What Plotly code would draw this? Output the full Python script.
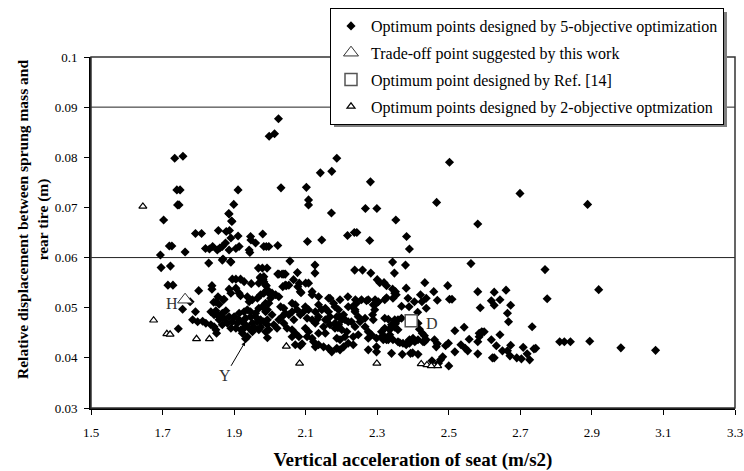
"""Scatter of optimum suspension designs: seat acceleration vs. relative displacement."""

import plotly.graph_objects as go

# (vertical acceleration of seat [m/s2], relative displacement [m])
PTS_5OBJ = [
    (2.024, 0.0877), (1.998, 0.0842), (2.013, 0.0847), (1.734, 0.0798), (1.757, 0.0802),
    (1.740, 0.0735), (1.749, 0.0735), (1.742, 0.0705), (1.746, 0.0705), (1.703, 0.0675),
    (1.911, 0.0735), (1.899, 0.0706), (1.885, 0.0688), (1.894, 0.0672), (1.856, 0.0654),
    (1.878, 0.0652), (1.887, 0.0654), (1.792, 0.0648), (1.809, 0.0648), (1.891, 0.0639),
    (1.911, 0.0643), (1.946, 0.0642), (1.947, 0.0635), (1.980, 0.0647),
    (2.031, 0.0739), (2.102, 0.0740), (2.108, 0.0715), (2.108, 0.0705), (2.141, 0.0769),
    (2.173, 0.0772), (2.187, 0.0798), (2.172, 0.0689), (2.105, 0.0632), (2.145, 0.0635),
    (2.022, 0.0624), (1.983, 0.0622), (1.990, 0.0622), (1.997, 0.0622), (1.719, 0.0623),
    (1.726, 0.0623), (2.281, 0.0751), (2.267, 0.0698), (2.299, 0.0698), (2.352, 0.0675),
    (2.466, 0.0710), (2.502, 0.0790), (2.581, 0.0667), (2.699, 0.0728), (2.888, 0.0706),
    (1.694, 0.0605), (1.696, 0.0580), (1.722, 0.0583), (1.763, 0.0611), (1.715, 0.0545),
    (1.729, 0.0545), (1.777, 0.0512), (1.756, 0.0497), (1.744, 0.0458), (1.792, 0.0492),
    (1.801, 0.0534),
    (1.820, 0.0618), (1.831, 0.0617), (1.840, 0.0622), (1.853, 0.0615), (1.860, 0.0619),
    (1.867, 0.0622), (1.876, 0.0629), (1.886, 0.0615), (1.905, 0.0618), (1.914, 0.0622),
    (1.942, 0.0615), (1.960, 0.0629),
    (1.829, 0.0589), (1.838, 0.0544), (1.838, 0.0537), (1.843, 0.0511), (1.855, 0.0522),
    (1.870, 0.0516), (1.851, 0.0489), (1.867, 0.0489), (1.886, 0.0687), (1.893, 0.0673),
    (1.869, 0.0597), (1.890, 0.0592), (1.944, 0.0610), (2.056, 0.0593),
    (1.895, 0.0557), (1.905, 0.0557), (1.918, 0.0557), (1.928, 0.0552), (1.948, 0.0548),
    (1.968, 0.0579), (1.979, 0.0579), (1.992, 0.0579), (1.973, 0.0561), (1.981, 0.0557),
    (1.990, 0.0544), (2.022, 0.0567), (2.039, 0.0567), (2.046, 0.0544), (2.053, 0.0545),
    (2.077, 0.0570), (2.066, 0.0556), (2.082, 0.0549), (2.087, 0.0530), (2.100, 0.0549),
    (2.769, 0.0576), (2.919, 0.0536), (2.775, 0.0518), (2.581, 0.0532), (2.627, 0.0531),
    (2.660, 0.0535), (2.619, 0.0514), (2.627, 0.0505), (2.643, 0.0516), (2.673, 0.0505),
    (2.588, 0.0500), (2.664, 0.0489), (2.667, 0.0472), (2.733, 0.0462), (2.594, 0.0451),
    (2.585, 0.0449), (2.643, 0.0446), (2.619, 0.0436), (2.581, 0.0432),
    (2.633, 0.0424), (2.650, 0.0414), (2.664, 0.0414), (2.673, 0.0425), (2.671, 0.0404),
    (2.690, 0.0400), (2.703, 0.0398), (2.708, 0.0421), (2.719, 0.0408), (2.726, 0.0396),
    (2.738, 0.0418), (2.743, 0.0419), (2.627, 0.0400), (2.622, 0.0400),
    (2.810, 0.0432), (2.823, 0.0432), (2.840, 0.0432), (2.894, 0.0433), (2.981, 0.0420),
    (3.078, 0.0415), (2.581, 0.0408),
    (2.126, 0.0585), (2.126, 0.0569), (2.217, 0.0644), (2.236, 0.0650), (2.243, 0.0650),
    (2.279, 0.0634), (2.382, 0.0642), (2.390, 0.0617), (2.343, 0.0591), (2.348, 0.0569),
    (2.379, 0.0585), (2.237, 0.0575), (2.259, 0.0575), (2.282, 0.0569), (2.562, 0.0588),
    (2.025, 0.0567), (2.034, 0.0567), (2.043, 0.0567), (2.108, 0.0549),
    (2.300, 0.0556), (2.307, 0.0550), (2.319, 0.0550), (2.326, 0.0544), (2.343, 0.0537),
    (2.351, 0.0532), (2.381, 0.0539), (2.433, 0.0550), (2.497, 0.0544), (2.458, 0.0532),
    (2.421, 0.0526), (2.437, 0.0519), (2.404, 0.0512), (2.425, 0.0512), (2.468, 0.0515),
    (2.502, 0.0517), (2.509, 0.0517),
    (2.218, 0.0522), (2.239, 0.0516), (2.256, 0.0516), (2.275, 0.0516), (2.294, 0.0516),
    (2.303, 0.0512), (2.326, 0.0520), (2.368, 0.0503), (2.389, 0.0502), (2.164, 0.0519),
    (2.196, 0.0516), (2.219, 0.0502), (2.238, 0.0496), (2.266, 0.0479), (2.287, 0.0486),
    (2.293, 0.0496), (2.266, 0.0462),
    (2.331, 0.0477), (2.349, 0.0476), (2.351, 0.0468), (2.340, 0.0462), (2.358, 0.0456),
    (2.414, 0.0469), (2.418, 0.0457), (2.426, 0.0449), (2.432, 0.0444),
    (2.390, 0.0436), (2.400, 0.0439), (2.414, 0.0436), (2.405, 0.0432), (2.372, 0.0429),
    (2.363, 0.0430), (2.381, 0.0428), (2.390, 0.0429),
    (2.340, 0.0409), (2.370, 0.0407), (2.393, 0.0409), (2.399, 0.0410), (2.414, 0.0407),
    (2.432, 0.0432), (2.460, 0.0436), (2.468, 0.0428), (2.465, 0.0422), (2.499, 0.0429),
    (2.491, 0.0424), (2.517, 0.0454), (2.543, 0.0461), (2.557, 0.0437), (2.517, 0.0412),
    (2.534, 0.0426), (2.546, 0.0419), (2.553, 0.0414), (2.585, 0.0442), (2.592, 0.0452),
    (2.599, 0.0452), (2.500, 0.0384), (2.483, 0.0402), (2.477, 0.0396), (2.471, 0.0389),
    (2.453, 0.0394),
    (1.974, 0.0559), (1.983, 0.0552), (1.988, 0.0545), (2.043, 0.0545), (2.036, 0.0542),
    (2.078, 0.0542), (2.085, 0.0532), (2.118, 0.0532), (2.118, 0.0526), (2.136, 0.0522),
    (2.168, 0.0519), (1.997, 0.0529), (2.006, 0.0529), (2.016, 0.0526), (2.002, 0.0519),
    (2.025, 0.0522), (2.242, 0.0509), (2.270, 0.0514), (2.298, 0.0509), (2.321, 0.0516),
    (2.178, 0.0509), (2.182, 0.0502), (2.192, 0.0496), (2.196, 0.0482), (2.201, 0.0476),
    (2.155, 0.0499), (2.164, 0.0492), (2.168, 0.0482), (2.159, 0.0476), (2.136, 0.0506),
    (2.145, 0.0496), (2.127, 0.0492), (2.136, 0.0482), (2.099, 0.0502), (2.108, 0.0496),
    (2.094, 0.0492), (2.085, 0.0486), (2.104, 0.0479), (2.118, 0.0476), (2.127, 0.0469),
    (2.062, 0.0509), (2.071, 0.0506), (2.076, 0.0496), (2.062, 0.0492), (2.053, 0.0486),
    (2.067, 0.0476), (2.030, 0.0502), (2.039, 0.0499), (2.043, 0.0489), (2.034, 0.0482),
    (2.025, 0.0476), (2.039, 0.0469), (1.997, 0.0509), (1.979, 0.0502), (1.988, 0.0492),
    (2.006, 0.0486), (1.993, 0.0476), (1.974, 0.0472), (2.011, 0.0466), (2.020, 0.0459),
    (1.969, 0.0456), (1.993, 0.0440), (2.048, 0.0459), (2.062, 0.0456), (2.071, 0.0449),
    (2.062, 0.0442), (2.081, 0.0442), (2.071, 0.0426), (2.085, 0.0424), (2.090, 0.0428),
    (2.099, 0.0459), (2.108, 0.0452), (2.104, 0.0442), (2.118, 0.0439), (2.122, 0.0432),
    (2.127, 0.0422), (2.136, 0.0426), (2.150, 0.0422), (2.164, 0.0419), (2.173, 0.0412),
    (2.187, 0.0419), (2.196, 0.0416), (2.206, 0.0422), (2.136, 0.0449), (2.155, 0.0449),
    (2.150, 0.0462), (2.168, 0.0466), (2.182, 0.0459), (2.192, 0.0466), (2.201, 0.0456),
    (2.215, 0.0452), (2.210, 0.0442), (2.187, 0.0439), (2.196, 0.0436), (2.219, 0.0429),
    (2.233, 0.0426), (2.131, 0.0476), (2.155, 0.0476), (2.187, 0.0482), (2.206, 0.0486),
    (2.210, 0.0476), (2.219, 0.0472), (2.182, 0.0469), (2.190, 0.0460),
    (2.231, 0.0502), (2.238, 0.0492), (2.247, 0.0482), (2.252, 0.0472), (2.228, 0.0472),
    (2.238, 0.0462), (2.289, 0.0476), (2.275, 0.0452), (2.284, 0.0446), (2.298, 0.0439),
    (2.275, 0.0439), (2.275, 0.0416), (2.298, 0.0422), (2.298, 0.0412), (2.312, 0.0442),
    (2.326, 0.0436), (2.312, 0.0452), (2.247, 0.0446), (2.233, 0.0442), (2.321, 0.0479),
    (2.289, 0.0506),
    (1.867, 0.0595), (1.891, 0.0591), (1.886, 0.0537), (1.905, 0.0539), (1.914, 0.0529),
    (1.918, 0.0524), (1.891, 0.0529), (1.872, 0.0517), (1.849, 0.0512), (1.858, 0.0507),
    (1.835, 0.0492), (1.849, 0.0494), (1.877, 0.0494), (1.858, 0.0482), (1.844, 0.0486),
    (1.784, 0.0476), (1.798, 0.0472), (1.812, 0.0473), (1.821, 0.0469), (1.835, 0.0466),
    (1.844, 0.0462), (1.849, 0.0456), (1.851, 0.0449), (1.858, 0.0476), (1.872, 0.0479),
    (1.886, 0.0482), (1.900, 0.0482), (1.914, 0.0489), (1.928, 0.0492), (1.937, 0.0496),
    (1.946, 0.0492), (1.960, 0.0489), (1.969, 0.0499), (1.988, 0.0509), (1.993, 0.0496),
    (1.867, 0.0466), (1.881, 0.0469), (1.895, 0.0472), (1.909, 0.0469), (1.923, 0.0472),
    (1.891, 0.0459), (1.905, 0.0459), (1.919, 0.0456), (1.928, 0.0459), (1.932, 0.0466),
    (1.951, 0.0469), (1.965, 0.0472), (1.974, 0.0476), (1.983, 0.0472), (1.993, 0.0466),
    (1.923, 0.0449), (1.937, 0.0442), (1.932, 0.0438), (1.951, 0.0452), (1.988, 0.0452),
    (1.997, 0.0456), (1.942, 0.0459), (1.956, 0.0461), (1.974, 0.0461), (1.914, 0.0476),
    (1.932, 0.0479), (1.946, 0.0482), (1.960, 0.0482), (1.965, 0.0519), (1.974, 0.0526),
    (1.983, 0.0529), (1.993, 0.0536), (1.942, 0.0512), (1.951, 0.0516), (1.937, 0.0522),
    (1.969, 0.0549), (1.983, 0.0562),
    (2.349, 0.0529), (2.353, 0.0526), (2.344, 0.0519), (2.386, 0.0519), (2.413, 0.0491),
    (2.437, 0.0499), (2.349, 0.0472), (2.358, 0.0476), (2.368, 0.0479), (2.340, 0.0466),
    (2.349, 0.0461), (2.335, 0.0456), (2.321, 0.0459), (2.321, 0.0442), (2.335, 0.0446),
    (2.317, 0.0436), (2.331, 0.0436), (2.344, 0.0436), (2.358, 0.0432), (2.381, 0.0426),
    (2.428, 0.0432), (2.437, 0.0436),
]

PTS_2OBJ = [
    (1.645, 0.0702), (1.675, 0.0475), (1.712, 0.0448), (1.721, 0.0447), (1.795, 0.0438),
    (1.831, 0.0438), (2.046, 0.0423), (2.083, 0.0389), (2.299, 0.0389), (2.423, 0.0388),
    (2.439, 0.0386), (2.451, 0.0384), (2.469, 0.0384),
]

TRADE_OFF_PT = (1.763, 0.0516)   # point H
REF14_PT = (2.395, 0.0474)       # point D
POINT_Y = (1.931, 0.0432)        # design marked "Y"

X_RANGE = [1.5, 3.3]
Y_RANGE = [0.03, 0.1]
X_TICKS = [1.5, 1.7, 1.9, 2.1, 2.3, 2.5, 2.7, 2.9, 3.1, 3.3]
Y_TICKS = [0.03, 0.04, 0.05, 0.06, 0.07, 0.08, 0.09, 0.1]
Y_GRID = [0.06, 0.09]

SERIF = "Liberation Serif, Times New Roman, serif"

# plot area spans x 91..735 px, y 57..408 px of the 744x471 page
PLOT_L, PLOT_R, PLOT_T, PLOT_B = 91, 735, 57, 408
PLOT_W, PLOT_H = PLOT_R - PLOT_L, PLOT_B - PLOT_T


def _px(x_px: float, y_px: float) -> tuple[float, float]:
    """Page pixel -> plot-domain fraction (for legend / decorations)."""
    return (x_px - PLOT_L) / PLOT_W, (PLOT_B - y_px) / PLOT_H


fig = go.Figure()

fig.add_trace(go.Scatter(
    x=[p[0] for p in PTS_5OBJ], y=[p[1] for p in PTS_5OBJ],
    mode="markers", name="Optimum points designed by 5-objective optimization",
    legendgroup="a",
    marker={"symbol": "diamond", "size": 7, "color": "black", "line": {"width": 0}},
))
fig.add_trace(go.Scatter(
    x=[TRADE_OFF_PT[0]], y=[TRADE_OFF_PT[1]],
    mode="markers", name="Trade-off point suggested by this work",
    legendgroup="b",
    marker={"symbol": "triangle-up", "size": 13, "color": "white",
            "line": {"width": 1, "color": "#333333"}},
))
fig.add_trace(go.Scatter(
    x=[REF14_PT[0]], y=[REF14_PT[1]],
    mode="markers", name="Optimum point designed by Ref. [14]",
    legendgroup="c",
    marker={"symbol": "square", "size": 12, "color": "white",
            "line": {"width": 1.5, "color": "#555555"}},
))
fig.add_trace(go.Scatter(
    x=[p[0] for p in PTS_2OBJ], y=[p[1] for p in PTS_2OBJ],
    mode="markers", name="Optimum points designed by 2-objective optmization",
    legendgroup="d",
    marker={"symbol": "triangle-up", "size": 7, "color": "white",
            "line": {"width": 1.2, "color": "black"}},
))

# horizontal gridlines (Excel-style major unit 0.03)
for gy in Y_GRID:
    fig.add_hline(y=gy, line={"color": "#222222", "width": 1}, layer="below")

# plot-area frame (top/right are lighter than the axes)
fig.add_shape(type="rect", xref="x domain", yref="y domain", x0=0, x1=1, y0=0, y1=1,
              line={"color": "#333333", "width": 1.5}, layer="above")
# grey drop shadow peeking out below/right of the legend box
sx0, sy0 = _px(334, 127)
sx1, sy1 = _px(727, 12)
fig.add_shape(type="rect", xref="paper", yref="paper", x0=sx0, x1=sx1, y0=sy0, y1=sy1,
              fillcolor="#7f7f7f", line={"width": 0}, layer="above")

label_font = {"family": SERIF, "size": 16, "color": "#333333"}
fig.add_annotation(x=TRADE_OFF_PT[0], y=TRADE_OFF_PT[1], text="H", showarrow=False,
                   xanchor="right", xshift=-5, yshift=-4, font=label_font)
fig.add_annotation(x=REF14_PT[0], y=REF14_PT[1], text="D", showarrow=False,
                   xanchor="left", xshift=13, yshift=-3, font=label_font)
fig.add_annotation(x=POINT_Y[0], y=POINT_Y[1], text="Y", showarrow=True,
                   arrowhead=2, arrowsize=0.8, arrowwidth=1, arrowcolor="black",
                   ax=-20, ay=34, font=label_font)

tx, ty = _px(33, 220)
fig.add_annotation(
    xref="paper", yref="paper", x=tx, y=ty, textangle=-90,
    xanchor="center", yanchor="middle",
    text="<b>Relative displacement between sprung mass and<br>rear tire (m)</b>",
    showarrow=False, font={"family": SERIF, "size": 15.5, "color": "black"},
)

lx, ly = _px(330, 8)
fig.update_layout(
    width=744,
    height=471,
    margin={"l": PLOT_L, "r": 744 - PLOT_R, "t": PLOT_T, "b": 471 - PLOT_B,
            "autoexpand": False},
    paper_bgcolor="white",
    plot_bgcolor="white",
    font={"family": SERIF, "size": 13, "color": "black"},
    showlegend=True,
    legend={
        "x": lx, "y": ly, "xanchor": "left", "yanchor": "top",
        "bgcolor": "white", "bordercolor": "black", "borderwidth": 1,
        "font": {"family": SERIF, "size": 16, "color": "black"},
        "tracegroupgap": 3,
    },
)
fig.update_xaxes(
    range=X_RANGE, tickvals=X_TICKS, ticktext=[f"{v:g}" for v in X_TICKS],
    showgrid=False, zeroline=False, automargin=False, ticklabeloverflow="allow",
    showline=True, linecolor="black", linewidth=2,
    ticks="outside", ticklen=5, tickcolor="black", ticklabelstandoff=6,
    title={"text": "<b>Vertical acceleration of seat (m/s2)</b>",
           "font": {"family": SERIF, "size": 19}, "standoff": 16},
)
fig.update_yaxes(
    range=Y_RANGE, tickvals=Y_TICKS, ticktext=[f"{v:g}" for v in Y_TICKS],
    showgrid=False, zeroline=False, automargin=False, ticklabeloverflow="allow",
    showline=True, linecolor="black", linewidth=2,
    ticks="outside", ticklen=5, tickcolor="black", ticklabelstandoff=4,
)

# drop the page's default body margin so the figure sits at the window origin
fig.write_html("out.html", config={"displayModeBar": False},
               post_script="document.body.style.margin='0';")
